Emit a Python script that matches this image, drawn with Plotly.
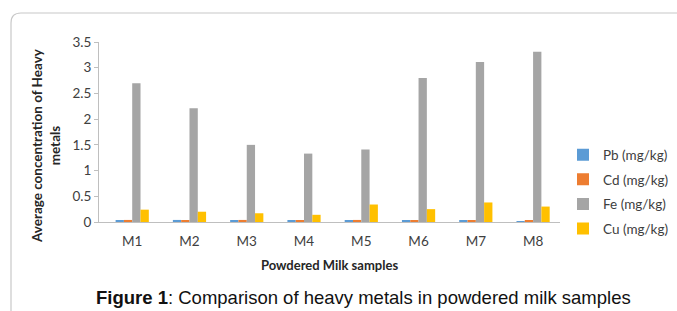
import plotly.graph_objects as go

categories = ["M1", "M2", "M3", "M4", "M5", "M6", "M7", "M8"]
pb = [0.03, 0.04, 0.03, 0.02, 0.03, 0.03, 0.03, 0.005]
cd = [0.04, 0.03, 0.04, 0.03, 0.04, 0.03, 0.02, 0.02]
fe = [2.70, 2.21, 1.50, 1.33, 1.41, 2.80, 3.11, 3.31]
cu = [0.24, 0.20, 0.17, 0.14, 0.34, 0.25, 0.38, 0.30]
series_names = ["Pb (mg/kg)", "Cd (mg/kg)", "Fe (mg/kg)", "Cu (mg/kg)"]
colors = ["#5B9BD5", "#ED7D31", "#A5A5A5", "#FFC000"]

FONT = "Lato"
W, H = 677, 311
ML, MR, MT, MB = 99, 117, 42, 89

fig = go.Figure()
for name, vals, col in zip(series_names, [pb, cd, fe, cu], colors):
    fig.add_trace(go.Bar(x=categories, y=vals, name=name, marker_color=col,
                         marker_line_width=0, legendgroup=name))

pw, ph = W - ML - MR, H - MT - MB
def px(x):
    return (x - ML) / pw
def py(y):
    return (H - MB - y) / ph

r = 10
path = (f"M {px(11)},{py(H+5)} L {px(11)},{py(13+r)} "
        f"Q {px(11)},{py(13)} {px(11+r)},{py(13)} L {px(W+5)},{py(13)}")

fig.update_layout(
    width=W, height=H,
    paper_bgcolor="white", plot_bgcolor="white",
    margin=dict(l=ML, r=MR, t=MT, b=MB, autoexpand=False),
    barmode="group", bargap=0.42, bargroupgap=0,
    font=dict(family=FONT, size=13, color="#404040"),
    legend=dict(x=px(563), xanchor="left", y=py(192), yanchor="middle",
                font=dict(family=FONT, size=13.5, color="#404040"),
                tracegroupgap=4, itemwidth=30, bgcolor="rgba(0,0,0,0)"),
    xaxis=dict(showline=True, linecolor="#BFBFBF", linewidth=1, ticks="",
               range=[-0.58, 7.47], ticklabelstandoff=7,
               tickfont=dict(family=FONT, size=13.5, color="#404040"),
               title=dict(text="<b>Powdered Milk samples</b>",
                          font=dict(family=FONT, size=13, color="#262626"), standoff=12)),
    yaxis=dict(range=[0, 3.5], dtick=0.5, showgrid=False, zeroline=False,
               showline=True, linecolor="#BFBFBF", linewidth=1,
               ticks="outside", ticklen=4, tickcolor="#BFBFBF",
               tickfont=dict(family=FONT, size=13.5, color="#404040")),
    shapes=[dict(type="path", xref="paper", yref="paper", path=path,
                 line=dict(color="#C8C8C8", width=1.2), layer="above")],
)

fig.add_annotation(x=px(46), y=py(146), xref="paper", yref="paper", showarrow=False,
                   text="<b>Average concentration of Heavy<br>metals</b>", textangle=-90,
                   font=dict(family=FONT, size=13.5, color="#262626"),
                   xanchor="center", yanchor="middle")

fig.add_annotation(x=px(363), y=py(297), xref="paper", yref="paper", showarrow=False,
                   text="<b>Figure 1</b>: Comparison of heavy metals in powdered milk samples",
                   font=dict(family="Liberation Sans", size=18.5, color="#111111"),
                   xanchor="center", yanchor="middle")

fig.write_html("out.html", config={"displayModeBar": False},
               post_script="document.body.style.margin='0';document.body.style.padding='0';")
